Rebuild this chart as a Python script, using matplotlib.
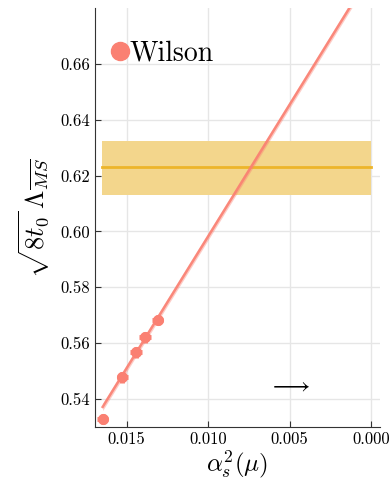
import matplotlib

matplotlib.use("Agg")
import matplotlib.pyplot as plt
from matplotlib.lines import Line2D
import numpy as np

# --- data ---
ALPHA2 = [0.01647, 0.01527, 0.01443, 0.01386, 0.0131]
LAMBDA = [0.5328, 0.5478, 0.5567, 0.5621, 0.5683]
ALPHA2_ERR = [0.00035, 0.00035, 0.00035, 0.00035, 0.00035]
LAMBDA_ERR = [0.0019, 0.0019, 0.0019, 0.0019, 0.0019]

FIT_INTERCEPT = 0.6925
FIT_SLOPE = -9.43
FIT_BAND = 0.0013

REF_CENTER = 0.6229
REF_LO = 0.6132
REF_HI = 0.6325
REF_XRANGE = [0.0, 0.0165]

YTICKS = [0.54, 0.56, 0.58, 0.60, 0.62, 0.64, 0.66]
XTICKS = [0.015, 0.010, 0.005, 0.000]

SALMON = "#FA8072"
GOLD = "#EDB52A"
GOLD_BAND = "#F3D68C"
GRID = "#E6E6E6"

plt.rcParams.update({
    "font.family": "serif",
    "font.serif": ["cmr10", "DejaVu Serif"],
    "mathtext.fontset": "cm",
    "axes.formatter.use_mathtext": True,
})

fig = plt.figure(figsize=(3.92, 4.82), dpi=100)
ax = fig.add_axes([95 / 392, 55 / 482, 285 / 392, 419 / 482])

# reference band
ax.fill_between(REF_XRANGE, REF_LO, REF_HI, color=GOLD_BAND, lw=0, zorder=1)
ax.plot(REF_XRANGE, [REF_CENTER, REF_CENTER], color=GOLD, lw=2, zorder=2)

# linear fit with its band
xf = np.linspace(0.0, ALPHA2[0], 100)
yf = FIT_INTERCEPT + FIT_SLOPE * xf
ax.fill_between(xf, yf - FIT_BAND, yf + FIT_BAND, color=SALMON, alpha=0.4, lw=0, zorder=3)
ax.plot(xf, yf, color=SALMON, lw=1.8, alpha=0.9, zorder=4)

# data points
ax.errorbar(ALPHA2, LAMBDA, xerr=ALPHA2_ERR, yerr=LAMBDA_ERR, fmt="o", ms=7,
            color=SALMON, ecolor=SALMON, elinewidth=3.5, capsize=0, zorder=5)

ax.annotate(r"$\longrightarrow$", (0.00506, 0.545), ha="center", va="center",
            fontsize=17, color="black")

ax.set_xlim(0.01694, -0.00055)
ax.set_ylim(0.530, 0.680)
ax.set_xticks(XTICKS)
ax.set_xticklabels([f"{t:.3f}" for t in XTICKS])
ax.set_yticks(YTICKS)
ax.set_yticklabels([f"{t:.2f}" for t in YTICKS])
ax.tick_params(labelsize=12, direction="in", length=4, color="#333333")

ax.grid(True, color=GRID, lw=1)
ax.set_axisbelow(True)
for side in ("top", "right"):
    ax.spines[side].set_visible(False)
for side in ("left", "bottom"):
    ax.spines[side].set_color("#333333")

ax.set_xlabel(r"$\alpha_s^2(\mu)$", fontsize=18, labelpad=1)
ax.set_ylabel(r"$\sqrt{8t_0}\,\Lambda_{\overline{MS}}$", fontsize=19, labelpad=6)

handle = Line2D([], [], ls="none", marker="o", ms=13, color=SALMON)
ax.legend([handle], ["Wilson"], loc="upper left", frameon=False, fontsize=20,
          handletextpad=-0.15, handlelength=1.0, borderaxespad=0.0,
          bbox_to_anchor=(0.0, 0.95))

fig.savefig("out.png", dpi=100, facecolor="white")
